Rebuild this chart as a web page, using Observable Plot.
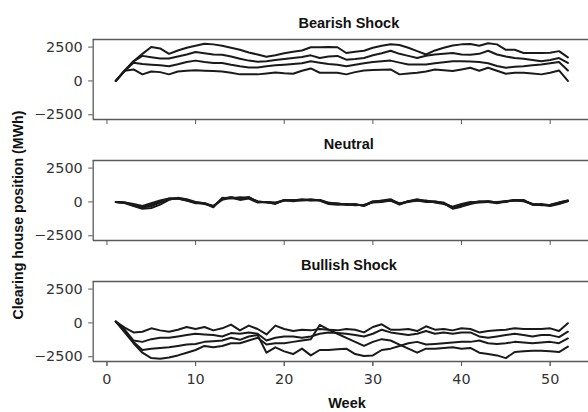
<!DOCTYPE html>
<html><head><meta charset="utf-8">
<script src="https://cdn.jsdelivr.net/npm/d3@7"></script>
<script src="https://cdn.jsdelivr.net/npm/@observablehq/plot@0.6"></script>
<style>html,body{margin:0;padding:0;background:#fff;overflow:hidden;width:588px;height:412px}</style>
</head><body><div id="chart"></div><script>
const weeks = [1,2,3,4,5,6,7,8,9,10,11,12,13,14,15,16,17,18,19,20,21,22,23,24,25,26,27,28,29,30,31,32,33,34,35,36,37,38,39,40,41,42,43,44,45,46,47,48,49,50,51,52];
const panels = ["Bearish Shock", "Neutral", "Bullish Shock"];
const xTicks = [0, 10, 20, 30, 40, 50];
const yTicks = [-2500, 0, 2500];

const bearish1 = [0,750,1450,2000,2500,2400,2000,2250,2450,2600,2750,2700,2600,2450,2300,2100,1950,1780,1900,2050,2150,2250,2490,2490,2500,2490,2060,2150,2226,2450,2600,2710,2650,2450,2200,1950,2250,2450,2620,2700,2720,2600,2780,2700,2300,2300,2060,2060,2060,2080,2200,1740];
const bearish2 = [0,750,1450,1850,1750,1650,1650,1800,1950,2130,2050,1950,1936,1800,1645,1500,1420,1450,1550,1620,1700,1760,1890,1694,1800,1850,1573,1620,1694,1900,2050,2226,2000,1850,1694,1863,1950,2000,2057,1950,1936,2000,2226,1950,1800,1700,1645,1550,1450,1550,1690,1331];
const bearish3 = [0,750,1350,1250,1200,1150,1090,1230,1400,1500,1400,1331,1331,1200,1089,1000,990,1089,1150,1200,1250,1300,1452,1350,1250,1200,1089,1200,1300,1400,1450,1500,1350,1210,1210,1210,1300,1380,1452,1452,1440,1400,1300,1100,968,1050,1089,1150,1210,1300,1400,774];
const bearish4 = [0,750,850,484,700,650,484,700,760,780,760,730,700,600,484,484,484,550,620,560,532,750,920,605,600,600,484,650,774,800,820,847,484,550,605,700,847,780,726,850,968,750,968,750,532,600,600,550,484,600,774,0];

const neutral1 = [0,-60,-250,-420,-300,-50,250,270,150,-50,-100,-350,250,350,250,350,0,0,-100,150,100,150,150,150,-100,-150,-170,-200,-270,0,50,150,-150,50,150,50,0,-100,-420,-250,-50,0,50,-50,50,150,100,-200,-220,-270,-100,75];
const neutral2 = [0,-40,-200,-350,-200,0,200,250,100,-50,-150,-300,150,300,150,250,-50,0,-50,100,150,100,150,100,-150,-200,-150,-250,-200,-50,0,100,-100,0,100,100,-50,-150,-350,-150,0,-50,0,0,50,100,50,-150,-250,-200,-50,100];
const neutral3 = [0,-80,-300,-500,-450,-200,150,300,200,0,-100,-400,300,250,350,300,50,-50,-100,100,100,200,100,150,-50,-150,-200,-150,-300,0,100,200,-150,50,200,50,50,-100,-500,-350,-150,0,50,-50,0,150,100,-150,-200,-300,-150,50];
const neutral4 = [0,-50,-150,-300,-100,100,250,250,100,-100,-100,-300,200,350,200,350,0,0,-150,150,50,150,200,100,-100,-100,-200,-200,-250,50,50,100,-200,50,100,0,0,-50,-400,-200,-100,50,0,-100,50,100,150,-200,-150,-250,-50,100];

const bullish1 = [100,-350,-700,-650,-400,-550,-650,-500,-300,-450,-300,-550,-400,-120,-550,-200,-450,-850,-200,-450,-600,-500,-550,-450,-500,-550,-450,-500,-700,-300,-100,-500,-500,-450,-600,-250,-500,-450,-550,-400,-450,-700,-600,-550,-500,-400,-450,-450,-450,-400,-600,-20];
const bullish2 = [100,-500,-1300,-1400,-1200,-1100,-1100,-1000,-900,-800,-850,-900,-1000,-750,-800,-700,-800,-1300,-1100,-1000,-1000,-1100,-1000,-800,-700,-750,-800,-900,-1000,-800,-500,-700,-800,-900,-800,-600,-800,-700,-800,-700,-700,-1000,-1100,-1000,-900,-800,-900,-1000,-900,-900,-1050,-650];
const bullish3 = [100,-600,-1400,-2000,-1900,-1850,-1800,-1700,-1600,-1550,-1400,-1350,-1300,-1100,-1250,-1000,-900,-2200,-1800,-2100,-2300,-1900,-2400,-2000,-2000,-1950,-1900,-2300,-2450,-2400,-2000,-1900,-1700,-1500,-1400,-1600,-1550,-1500,-1450,-1400,-1400,-1300,-1500,-1550,-1500,-1400,-1450,-1500,-1450,-1400,-1500,-1150];
const bullish4 = [100,-700,-1500,-2200,-2600,-2650,-2550,-2400,-2200,-2000,-1700,-1800,-1700,-1500,-1500,-1300,-1100,-1600,-1500,-1500,-1400,-1300,-1200,-150,-500,-800,-1100,-1400,-1700,-1400,-1200,-1300,-1600,-1900,-2200,-1900,-1900,-1850,-1800,-1900,-1850,-2200,-2300,-2400,-2600,-2150,-2100,-2050,-2050,-2100,-2150,-1750];

const seriesByPanel = {
  "Bearish Shock": [bearish1, bearish2, bearish3, bearish4],
  "Neutral": [neutral1, neutral2, neutral3, neutral4],
  "Bullish Shock": [bullish1, bullish2, bullish3, bullish4]
};
const rows = [];
panels.forEach(p => seriesByPanel[p].forEach((vals, s) => vals.forEach((v, i) => rows.push({panel: p, series: p + s, week: weeks[i], value: v}))));

const fmt = d => d < 0 ? "\u2212" + Math.abs(d) : String(d);
const frameColor = "#5a5a5a";

const chart = Plot.plot({
  width: 588, height: 412,
  marginTop: 38.3, marginBottom: 51.3, marginLeft: 92.7, marginRight: 0,
  style: {fontFamily: "DejaVu Sans", fontSize: "14px", color: "#333", background: "white"},
  x: {domain: [-1.55, 54.55], range: [92.7, 590]},
  y: {domain: [-2850, 3060]},
  fy: {domain: panels, paddingInner: 0.34, paddingOuter: 0, axis: null},
  marks: [
    Plot.ruleY([-2850, 3060], {stroke: frameColor, strokeWidth: 1.3}),
    Plot.ruleX([-1.55], {stroke: frameColor, strokeWidth: 1.3}),
    Plot.line(rows, {x: "week", y: "value", fy: "panel", z: "series", stroke: "#1a1a1a", strokeWidth: 2, strokeLinejoin: "round"}),
    Plot.axisY(yTicks, {tickFormat: fmt, tickSize: 4.5, tickPadding: 6, label: null, stroke: frameColor, fontSize: 14.4}),
    Plot.axisX(xTicks, {tickFormat: () => "", tickSize: 5, label: null, facetAnchor: null, stroke: frameColor}),
    Plot.axisX(xTicks, {tickSize: 5, tickPadding: 7, label: null, stroke: frameColor, fontSize: 14.4}),
    Plot.text(panels, {fy: d => d, text: d => d, frameAnchor: "top", lineAnchor: "bottom", dy: -12, dx: 8, fontWeight: "bold", fontSize: 14.5, fontFamily: "Liberation Sans, Arial, sans-serif", fill: "#111"})
  ]
});
chart.style.maxWidth = "none";
document.getElementById("chart").appendChild(chart);
const svg = d3.select(chart);
svg.append("text")
  .attr("transform", "translate(17.5,215) rotate(-90)")
  .attr("text-anchor", "middle").attr("dominant-baseline", "central")
  .attr("font-family", "Liberation Sans, Arial, sans-serif").attr("font-weight", "bold")
  .attr("font-size", 14.2).attr("fill", "#111")
  .text("Clearing house position (MWh)");
svg.append("text")
  .attr("x", 347).attr("y", 408)
  .attr("text-anchor", "middle")
  .attr("font-family", "Liberation Sans, Arial, sans-serif").attr("font-weight", "bold")
  .attr("font-size", 14.5).attr("fill", "#111")
  .text("Week");
</script></body></html>
